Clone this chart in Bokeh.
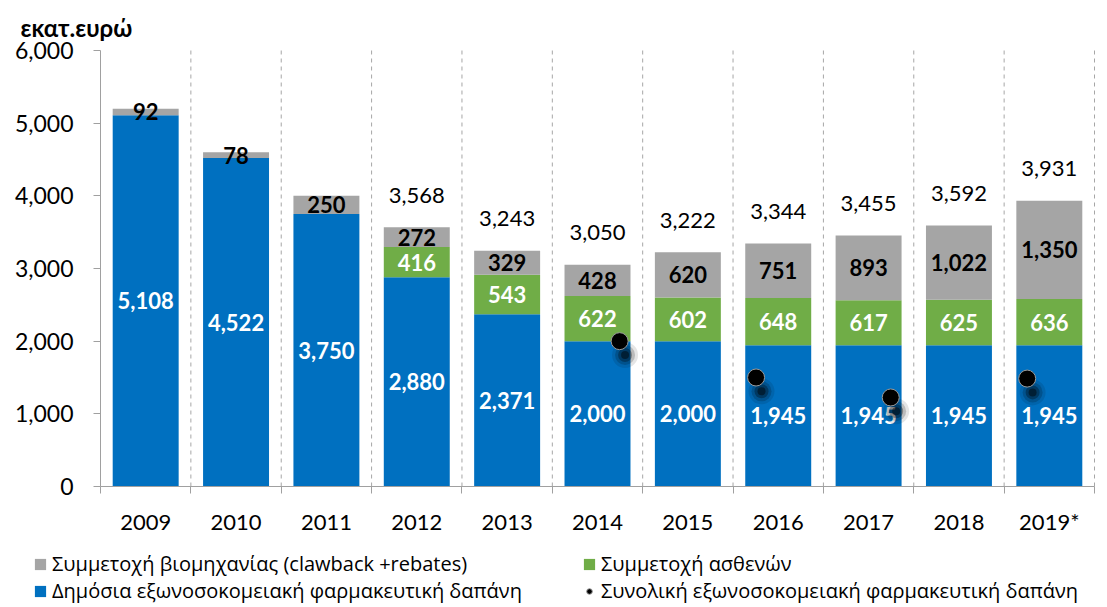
from bokeh.plotting import figure
from bokeh.models import (ColumnDataSource, FixedTicker, NumeralTickFormatter,
                          Legend, LegendItem, Label)
from bokeh.embed import file_html
from bokeh.resources import INLINE

years = ["2009", "2010", "2011", "2012", "2013", "2014", "2015", "2016", "2017", "2018", "2019*"]
public = [5108, 4522, 3750, 2880, 2371, 2000, 2000, 1945, 1945, 1945, 1945]
patients = [0, 0, 0, 416, 543, 622, 602, 648, 617, 625, 636]
industry = [92, 78, 250, 272, 329, 428, 620, 751, 893, 1022, 1350]
totals = [None, None, None, 3568, 3243, 3050, 3222, 3344, 3455, 3592, 3931]
dot_years = ["2014", "2016", "2017", "2019*"]
dot_values = [2000, 1500, 1225, 1485]
dot_side = [1, -1, 1, -1]
y_ticks = [0, 1000, 2000, 3000, 4000, 5000, 6000]

BLUE = "#0070C0"
GREEN = "#70AD47"
GRAY = "#A5A5A5"
FONT = "Lato"
LFONT = "Open Sans"

n = len(years)
xs = list(range(n))
src = ColumnDataSource(dict(x=xs, public=public, patients=patients, industry=industry))

# plotting area 994x436 px with its origin at (100, 486); the frame is widened to
# the whole figure so the legend and the title can live inside it
W, H = 1105, 607
PX_X = 994 / n
PX_Y = 436 / y_ticks[-1]
x_start = -0.5 - 100 / PX_X
x_end = n - 0.5 + (W - 1094) / PX_X
y_start = -(H - 486) / PX_Y
y_end = 486 / PX_Y

p = figure(frame_width=W, frame_height=H, x_range=(x_start, x_end),
           y_range=(y_start, y_end), output_backend="svg", toolbar_location=None,
           min_border=0)
p.outline_line_color = None
p.background_fill_color = "white"
p.grid.grid_line_color = None

# dashed separators between categories
sep = [i + 0.5 for i in range(n)]
p.segment(x0=sep, y0=[0] * n, x1=sep, y1=[y_ticks[-1]] * n, line_color="#a6a6a6",
          line_dash="4 4", line_width=1, level="underlay")

rs = p.vbar_stack(["public", "patients", "industry"], x="x", width=0.73,
                  color=[BLUE, GREEN, GRAY], line_color=None, source=src)

# segment labels
def seg_labels(vals, bases, color):
    lx, ly, lt = [], [], []
    for i, (v, b) in enumerate(zip(vals, bases)):
        if v:
            lx.append(i)
            ly.append(b + v / 2)
            lt.append(f"{v:,}")
    s = ColumnDataSource(dict(x=lx, y=ly, t=lt))
    p.text(x="x", y="y", text="t", source=s, text_align="center", text_baseline="middle",
           text_color=color, text_font_size="22px", text_font_style="bold",
           text_font={"value": FONT})

seg_labels(public, [0] * n, "white")
seg_labels(patients, public, "white")
seg_labels(industry, [a + b for a, b in zip(public, patients)], "black")

# totals
tx = [i for i, t in enumerate(totals) if t is not None]
ty = [t for t in totals if t is not None]
tt = [f"{t:,}" for t in ty]
p.text(x=tx, y=ty, text=tt, text_align="center", text_baseline="middle", y_offset=-32,
       text_color="black", text_font_size="22px", text_font={"value": FONT})

# dots with soft shadow
dx = [years.index(y) + 0.245 * s for y, s in zip(dot_years, dot_side)]
for size, alpha in [(26, 0.1), (20, 0.18), (14, 0.3), (8, 0.45)]:
    p.scatter([x + 0.06 for x in dx], [v - 190 for v in dot_values], size=size,
              fill_color="black", fill_alpha=alpha, line_color=None)
dots = p.scatter(dx, dot_values, size=17, fill_color="black", line_color="#9a9a9a",
                 line_width=1)

# axes
p.yaxis.fixed_location = -0.5
p.yaxis.bounds = (0, y_ticks[-1])
p.yaxis.ticker = FixedTicker(ticks=y_ticks)
p.yaxis.formatter = NumeralTickFormatter(format="0,0")
p.yaxis.minor_tick_line_color = None
p.yaxis.major_tick_in = 0
p.yaxis.major_tick_out = 7
p.yaxis.major_label_standoff = 20
p.yaxis.axis_line_color = "#a0a0a0"
p.yaxis.major_tick_line_color = "#a0a0a0"
p.yaxis.major_label_text_font_size = "23px"
p.yaxis.major_label_text_font = FONT
p.yaxis.major_label_text_color = "black"

bounds = [i - 0.5 for i in range(n + 1)]
p.xaxis.fixed_location = 0
p.xaxis.bounds = (-0.5, n - 0.5)
p.xaxis.ticker = FixedTicker(ticks=xs, minor_ticks=bounds)
p.xaxis.major_label_overrides = {i: y for i, y in enumerate(years)}
p.xaxis.major_tick_line_color = None
p.xaxis.minor_tick_in = 0
p.xaxis.minor_tick_out = 7
p.xaxis.minor_tick_line_color = "#a0a0a0"
p.xaxis.axis_line_color = "#a0a0a0"
p.xaxis.major_label_standoff = 14
p.xaxis.major_label_text_font_size = "22px"
p.xaxis.major_label_text_font = FONT
p.xaxis.major_label_text_color = "black"

p.add_layout(Label(x=20, y=H - 12, x_units="screen", y_units="screen", text="εκατ.ευρώ",
                   text_font=FONT, text_font_size="24px", text_font_style="bold",
                   text_baseline="top", text_color="black"))

legend = Legend(items=[
    LegendItem(label="Συμμετοχή βιομηχανίας (clawback +rebates)", renderers=[rs[2]]),
    LegendItem(label="Συμμετοχή ασθενών", renderers=[rs[1]]),
    LegendItem(label="Δημόσια εξωνοσοκομειακή φαρμακευτική δαπάνη", renderers=[rs[0]]),
    LegendItem(label="Συνολική εξωνοσοκομειακή φαρμακευτική δαπάνη", renderers=[dots]),
], location=(33, 3), orientation="horizontal", ncols=2)
legend.border_line_color = None
legend.background_fill_alpha = 0
legend.label_text_font = LFONT
legend.label_text_font_size = "20px"
legend.label_text_color = "black"
legend.glyph_width = 14
legend.glyph_height = 14
legend.label_standoff = 5
legend.label_width = 530
legend.label_height = 22
legend.spacing = 0
legend.padding = 0
legend.margin = 0
p.add_layout(legend, "center")

open("out.html", "w").write(file_html(p, INLINE))
